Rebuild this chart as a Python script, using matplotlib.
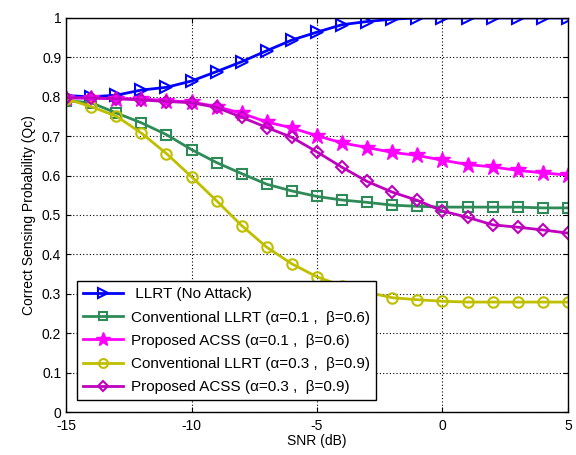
import numpy as np
from matplotlib import pyplot as plt

plt.rcParams['font.family'] = ['Liberation Sans', 'DejaVu Sans']
plt.rcParams['axes.unicode_minus'] = False

# DATA
snr_db = np.arange(-15, 6)

llrt_no_attack = [0.803, 0.800, 0.804, 0.817, 0.824, 0.840, 0.864, 0.889, 0.917, 0.944, 0.964,
                  0.983, 0.991, 0.997, 1.0, 1.0, 1.0, 1.0, 1.0, 1.0, 1.0]
conv_llrt_1 = [0.790, 0.785, 0.759, 0.734, 0.704, 0.666, 0.633, 0.605, 0.578, 0.561, 0.547,
               0.538, 0.532, 0.525, 0.522, 0.520, 0.520, 0.520, 0.520, 0.518, 0.518]
acss_1 = [0.797, 0.797, 0.795, 0.795, 0.790, 0.787, 0.775, 0.758, 0.736, 0.721, 0.701,
          0.683, 0.671, 0.659, 0.651, 0.639, 0.628, 0.622, 0.613, 0.607, 0.601]
conv_llrt_2 = [0.795, 0.775, 0.751, 0.708, 0.656, 0.597, 0.536, 0.473, 0.418, 0.376, 0.343,
               0.320, 0.304, 0.290, 0.285, 0.281, 0.279, 0.279, 0.279, 0.279, 0.279]
acss_2 = [0.797, 0.797, 0.795, 0.792, 0.788, 0.785, 0.773, 0.748, 0.722, 0.697, 0.660,
          0.621, 0.585, 0.558, 0.537, 0.510, 0.494, 0.475, 0.469, 0.462, 0.454]

labels = [" LLRT (No Attack)",
          "Conventional LLRT (α=0.1 ,  β=0.6)",
          "Proposed ACSS (α=0.1 ,  β=0.6)",
          "Conventional LLRT (α=0.3 ,  β=0.9)",
          "Proposed ACSS (α=0.3 ,  β=0.9)"]

# PLOT
fig = plt.figure(figsize=(5.76, 4.55), dpi=100)
ax = fig.add_axes([0.1146, 0.0945, 0.8715, 0.866])

ax.plot(snr_db, llrt_no_attack, color='#0000FF', lw=2, marker='>', ms=8.5, mfc='none', mew=1.5,
        label=labels[0])
ax.plot(snr_db, conv_llrt_1, color='#2E8B57', lw=2, marker='s', ms=7.5, mfc='none', mew=1.5,
        label=labels[1])
ax.plot(snr_db, acss_1, color='#FF00FF', lw=2, marker='*', ms=12, mew=1,
        label=labels[2])
ax.plot(snr_db, conv_llrt_2, color='#BFBF00', lw=2, marker='o', ms=7.5, mfc='none', mew=1.5,
        label=labels[3])
ax.plot(snr_db, acss_2, color='#BF00BF', lw=2, marker='D', ms=6.5, mfc='none', mew=1.5,
        label=labels[4])

ax.set_xlim(-15, 5)
ax.set_ylim(0, 1)
ax.set_xticks([-15, -10, -5, 0, 5])
ax.set_yticks(np.arange(0, 1.01, 0.1))
ax.set_yticklabels(["0", "0.1", "0.2", "0.3", "0.4", "0.5", "0.6", "0.7", "0.8", "0.9", "1"])
ax.tick_params(direction='in', top=True, right=True, labelsize=10)
ax.tick_params(axis='x', pad=5)
ax.grid(True, color='black', linestyle=(0, (1, 2)), linewidth=0.8)
for s in ax.spines.values():
    s.set_linewidth(1)

ax.set_xlabel("SNR (dB)", fontsize=10, labelpad=1)
ax.set_ylabel("Correct Sensing Probability (Qc)", fontsize=10)

leg = ax.legend(loc='lower left', bbox_to_anchor=(0.022, 0.03), borderaxespad=0, fontsize=11,
                fancybox=False, edgecolor='black', framealpha=1, handlelength=2.6,
                borderpad=0.4, labelspacing=0.6, handletextpad=0.5, markerscale=0.85)
leg.get_frame().set_linewidth(1)

plt.savefig("out.png")
